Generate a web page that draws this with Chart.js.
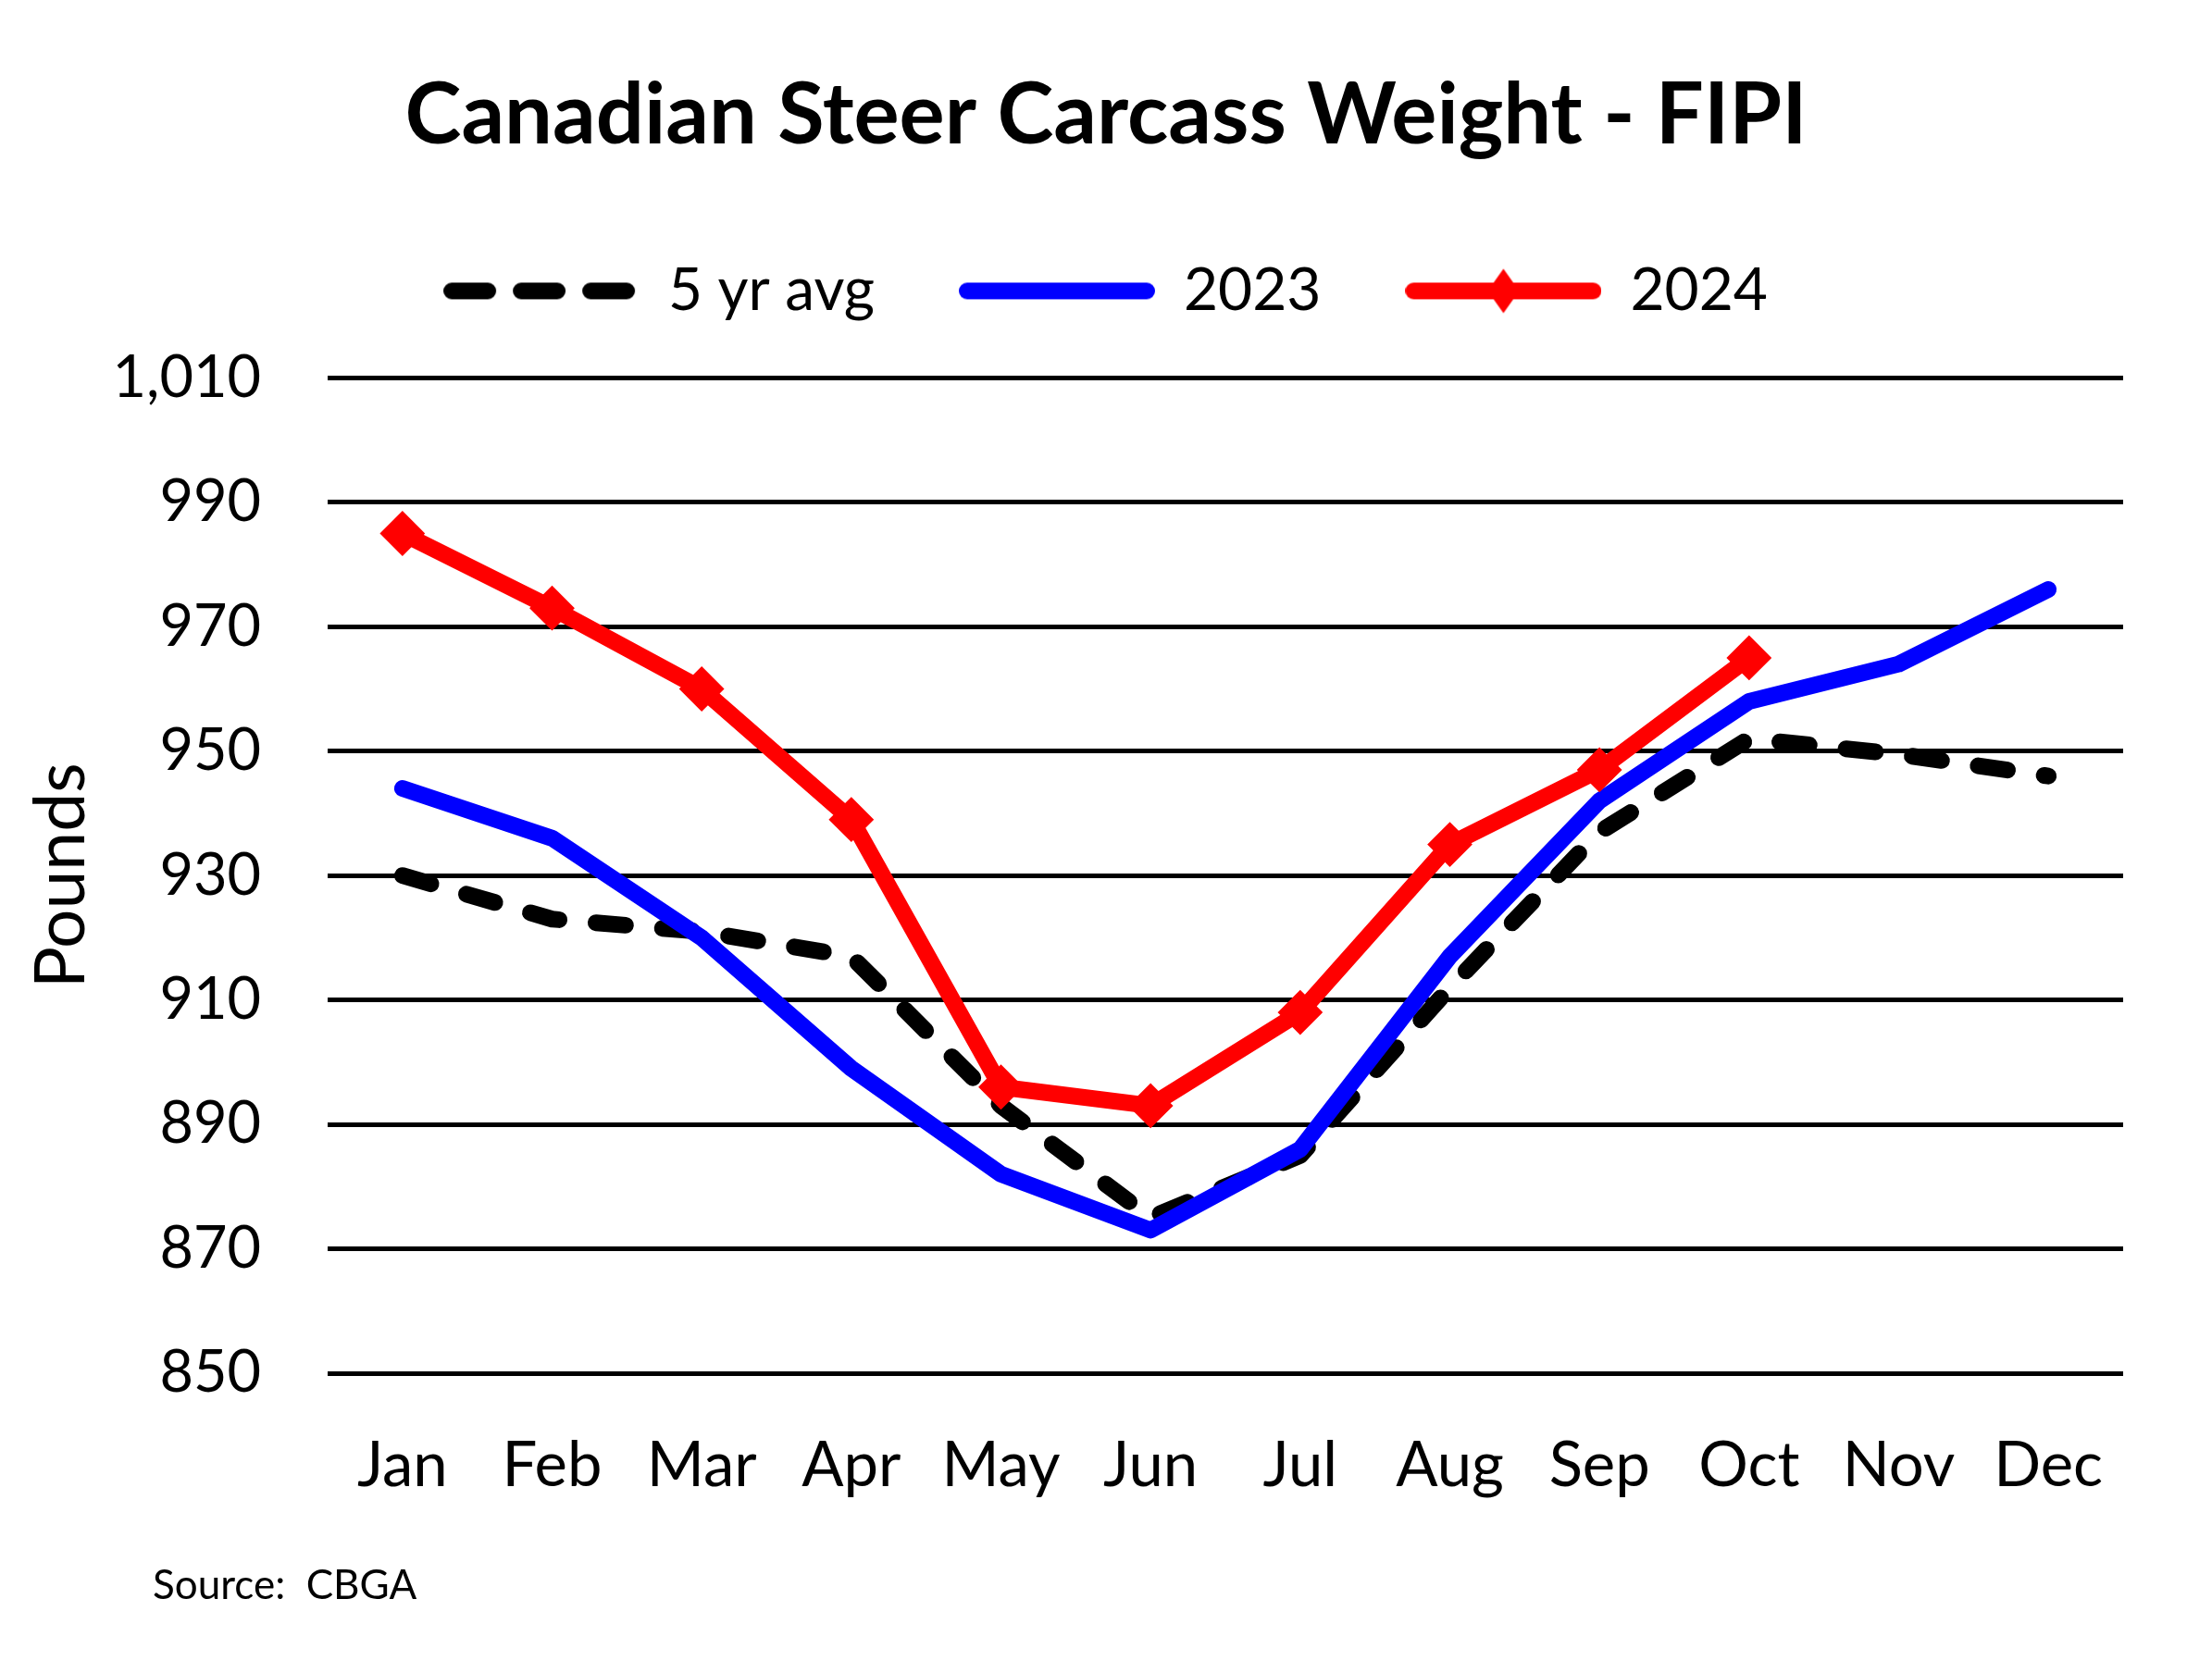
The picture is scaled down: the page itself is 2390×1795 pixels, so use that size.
<!DOCTYPE html>
<html>
<head>
<meta charset="utf-8">
<title>Canadian Steer Carcass Weight - FIPI</title>
<script src="https://cdn.jsdelivr.net/npm/chart.js@4.4.1/dist/chart.umd.min.js"></script>
<style>
  html, body { margin: 0; padding: 0; background: #fff; }
</style>
</head>
<body>
<canvas id="carcassChart" width="2390" height="1795"></canvas>
<script>
const months = ['Jan', 'Feb', 'Mar', 'Apr', 'May', 'Jun', 'Jul', 'Aug', 'Sep', 'Oct', 'Nov', 'Dec'];
const avg5yr = [930, 923, 921, 917, 893, 875, 885, 912, 937, 952, 949.5, 946];
const weights2023 = [944, 936, 920, 899, 882, 873, 886, 917, 942, 958, 964, 976];
const weights2024 = [985, 973, 960, 939, 896, 893, 908, 935, 947, 965, null, null];
const yMin = 850;
const yMax = 1010;
const yStep = 20;

const FONT = 'Lato, "Open Sans", sans-serif';
const LINE_W = 18;

// legend samples drawn as small canvases so they look like the line styles
function legendSample(color, dash, withDiamond) {
  const c = document.createElement('canvas');
  c.width = 212;
  c.height = 54;
  const ctx = c.getContext('2d');
  ctx.strokeStyle = color;
  ctx.lineWidth = LINE_W;
  ctx.lineCap = 'round';
  ctx.setLineDash(dash);
  ctx.beginPath();
  ctx.moveTo(9, 27);
  ctx.lineTo(203, 27);
  ctx.stroke();
  if (withDiamond) {
    ctx.fillStyle = color;
    ctx.beginPath();
    ctx.moveTo(106, 3);
    ctx.lineTo(123, 27);
    ctx.lineTo(106, 51);
    ctx.lineTo(89, 27);
    ctx.closePath();
    ctx.fill();
  }
  return c;
}

const samples = [
  legendSample('#000000', [39, 36], false),
  legendSample('#0000ff', [], false),
  legendSample('#ff0000', [], true),
];

const sourceNote = {
  id: 'sourceNote',
  afterDraw(chart) {
    const ctx = chart.ctx;
    ctx.save();
    ctx.fillStyle = '#000';
    ctx.font = '44px ' + FONT;
    ctx.textBaseline = 'middle';
    ctx.fillText('Source:  CBGA', 165, 1714);
    ctx.restore();
  },
};

new Chart(document.getElementById('carcassChart'), {
  type: 'line',
  data: {
    labels: months,
    datasets: [
      {
        label: '5 yr avg',
        data: avg5yr,
        borderColor: '#000000',
        borderWidth: LINE_W,
        borderDash: [32, 40],
        borderCapStyle: 'round',
        borderJoinStyle: 'round',
        pointRadius: 0,
        tension: 0,
        order: 3,
      },
      {
        label: '2023',
        data: weights2023,
        borderColor: '#0000ff',
        borderWidth: LINE_W,
        borderCapStyle: 'round',
        borderJoinStyle: 'round',
        pointRadius: 0,
        tension: 0,
        order: 2,
      },
      {
        label: '2024',
        data: weights2024,
        borderColor: '#ff0000',
        backgroundColor: '#ff0000',
        borderWidth: LINE_W,
        borderJoinStyle: 'round',
        pointStyle: 'rectRot',
        pointRadius: 23,
        pointBorderWidth: 2,
        pointBackgroundColor: '#ff0000',
        pointBorderColor: '#ff0000',
        tension: 0,
        order: 1,
      },
    ],
  },
  options: {
    responsive: false,
    animation: false,
    devicePixelRatio: 1,
    locale: 'en-US',
    layout: { padding: 0 },
    plugins: {
      tooltip: { enabled: false },
      title: {
        display: true,
        text: 'Canadian Steer Carcass Weight - FIPI',
        color: '#000',
        font: { family: FONT, size: 92, weight: 'bold' },
        padding: { top: 70, bottom: 10 },
      },
      legend: {
        display: true,
        position: 'top',
        labels: {
          color: '#000',
          font: { family: FONT, size: 64 },
          usePointStyle: true,
          pointStyleWidth: 210,
          padding: 92,
          sort: (a, b) => a.datasetIndex - b.datasetIndex,
          generateLabels(chart) {
            const items = Chart.defaults.plugins.legend.labels.generateLabels(chart);
            items.forEach((item) => {
              item.pointStyle = samples[item.datasetIndex];
            });
            return items;
          },
        },
      },
    },
    scales: {
      x: {
        offset: true,
        grid: { display: false },
        border: { display: false },
        ticks: {
          color: '#000',
          font: { family: FONT, size: 67 },
          padding: 52,
          maxRotation: 0,
          autoSkip: false,
        },
        afterFit(scale) {
          scale.height = 311;
          scale.paddingRight = 96;
        },
      },
      // empty band between the legend and the plot
      xGap: {
        position: 'top',
        grid: { display: false },
        border: { display: false },
        ticks: { display: false },
        afterFit(scale) {
          scale.height = 52;
        },
      },
      y: {
        min: yMin,
        max: yMax,
        grid: { color: '#000', lineWidth: 5, drawTicks: false },
        border: { display: false },
        ticks: {
          stepSize: yStep,
          color: '#000',
          font: { family: FONT, size: 63 },
          padding: 72,
        },
        title: {
          display: true,
          text: 'Pounds',
          color: '#000',
          font: { family: FONT, size: 75 },
          padding: { top: 22, bottom: 0 },
        },
        afterFit(scale) {
          scale.width = 354;
        },
      },
    },
  },
  plugins: [sourceNote],
});
</script>
</body>
</html>
